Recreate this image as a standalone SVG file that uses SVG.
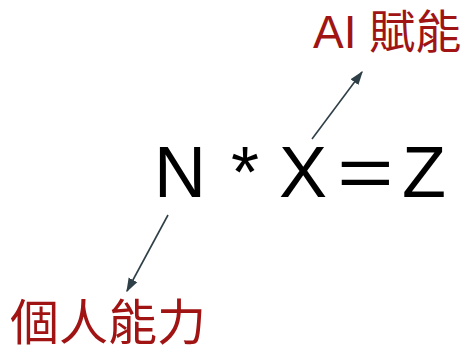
<svg xmlns="http://www.w3.org/2000/svg" width="466" height="354" viewBox="0 0 466 354">
<style>
.lbl{fill:#a01414;font-family:"Liberation Sans","Noto Sans CJK TC",sans-serif}
.eq{fill:#000;font-family:"Liberation Sans",Arial,sans-serif;font-size:72px}
.conn{stroke:#2f3f47;stroke-width:1.6;fill:none;marker-end:url(#ah)}
</style>
<defs>
<marker id="ah" viewBox="0 0 10 10" refX="9" refY="5" markerWidth="14" markerHeight="14" markerUnits="userSpaceOnUse" orient="auto">
<path d="M0,1.5 L10,5 L0,8.5 z" fill="#2f3f47"/>
</marker>
</defs>
<rect width="466" height="354" fill="#fff"/>
<g id="ai">
<text class="lbl" x="313" y="48" font-size="46">AI 賦能</text>
</g>
<g id="equation">
<text class="eq" y="197"><tspan x="154">N</tspan><tspan x="231">*</tspan><tspan x="279">X</tspan></text>
<text class="eq" transform="translate(337,197) scale(1.35,1)" x="0" y="0">=</text>
<text class="eq" x="402" y="197">Z</text>
</g>
<g id="personal">
<text class="lbl" x="10" y="340" font-size="49">個人能力</text>
</g>
<g id="connectors">
<line class="conn" x1="312" y1="139" x2="362" y2="72"/>
<line class="conn" x1="168" y1="215" x2="127" y2="291"/>
</g>
</svg>
